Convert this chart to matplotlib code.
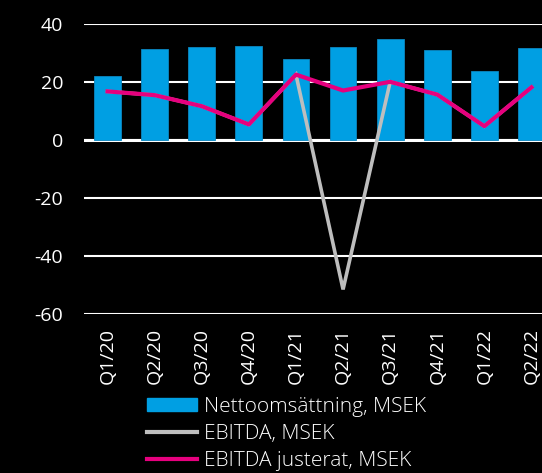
import matplotlib.pyplot as plt
import matplotlib.patches as mpatches
import matplotlib.lines as mlines
import numpy as np

plt.rcParams['font.family'] = ['Open Sans', 'DejaVu Sans']
plt.rcParams['axes.unicode_minus'] = False

quarters = ['Q1/20', 'Q2/20', 'Q3/20', 'Q4/20', 'Q1/21', 'Q2/21', 'Q3/21', 'Q4/21', 'Q1/22', 'Q2/22']
netto = [22.0, 31.4, 32.0, 32.6, 27.8, 32.0, 34.7, 31.0, 23.7, 31.7]
ebitda = [16.8, 15.5, 11.7, 5.4, 22.6, -51.5, 20.1, 15.7, 4.8, 18.2]
ebitda_just = [16.8, 15.5, 11.7, 5.4, 22.6, 17.1, 20.1, 15.7, 4.8, 18.2]

blue = '#009fe3'
gray = '#bebebe'
pink = '#e6007e'

fig = plt.figure(figsize=(5.42, 4.73), dpi=100, facecolor='black')
ax = fig.add_axes([0.155, 0.336, 0.869, 0.613])
ax.set_facecolor('black')

x = np.arange(len(quarters))
ax.bar(x, netto, width=0.57, color=blue, edgecolor='#0b86c0', linewidth=0.6, zorder=3)
ax.plot(x, ebitda, color=gray, lw=2.6, zorder=4, solid_joinstyle='miter')
ax.plot(x, ebitda_just, color=pink, lw=3.0, zorder=5)

ax.set_xlim(-0.5, len(quarters) - 0.5)
ax.set_ylim(-60, 40)
ax.set_yticks([-60, -40, -20, 0, 20, 40])
ax.set_xticks(x)
ax.set_xticklabels(quarters, rotation=90)
ax.yaxis.grid(True, color='white', lw=1.5, zorder=1)
ax.axhline(0, color='white', lw=2.2, zorder=2)
for s in ax.spines.values():
    s.set_visible(False)
ax.tick_params(axis='y', length=0, pad=15, labelsize=14, labelcolor='white')
ax.tick_params(axis='x', length=0, pad=10, labelsize=14, labelcolor='white')

handles = [
    mpatches.Patch(color=blue, label='Nettoomsättning, MSEK'),
    mlines.Line2D([], [], color=gray, lw=3, label='EBITDA, MSEK'),
    mlines.Line2D([], [], color=pink, lw=3, label='EBITDA justerat, MSEK'),
]
leg = fig.legend(handles=handles, loc='upper left', bbox_to_anchor=(0.272, 0.161),
                 bbox_transform=fig.transFigure, frameon=False, fontsize=15,
                 handlelength=2.4, handleheight=0.55, handletextpad=0.3,
                 labelspacing=0.33, borderaxespad=0, borderpad=0)
for t in leg.get_texts():
    t.set_color('white')
    t.set_fontweight('light')

fig.savefig('out.png', dpi=100, facecolor='black')
